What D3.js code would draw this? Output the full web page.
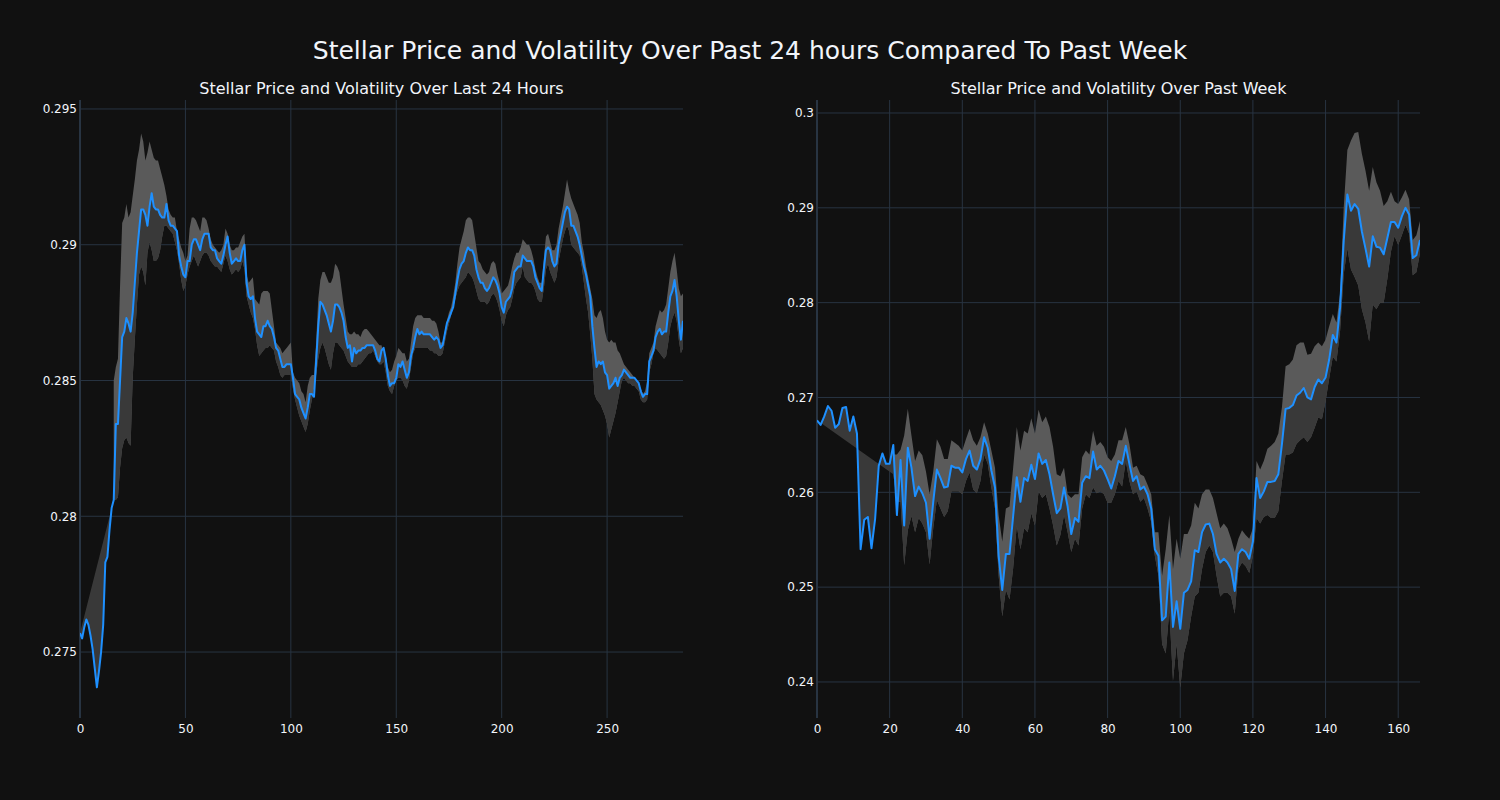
<!DOCTYPE html>
<html><head><meta charset="utf-8">
<script src="https://cdn.jsdelivr.net/npm/d3@7"></script>
<style>body{margin:0;background:#111111;} svg{display:block;}</style>
</head><body><svg id="chart" width="1500" height="800"></svg>
<script>
const mainTitle = "Stellar Price and Volatility Over Past 24 hours Compared To Past Week";
const dayTitle = "Stellar Price and Volatility Over Last 24 Hours";
const weekTitle = "Stellar Price and Volatility Over Past Week";

// 24h price (5-minute steps, index 0..286)
const dayPrice = [
0.2757,0.2755,0.2759,0.2762,0.2760,0.2756,0.2751,0.2744,0.2737,0.2743,
0.2750,0.2760,0.2783,0.2785,0.2795,0.2803,0.2806,0.2834,0.2834,0.2850,
0.2866,0.2868,0.2873,0.2871,0.2868,0.2875,0.2886,0.2897,0.2905,0.2913,
0.2913,0.2911,0.2907,0.2914,0.2919,0.2914,0.2913,0.2913,0.2911,0.2910,
0.2910,0.2915,0.2909,0.2907,0.2907,0.2906,0.2905,0.2896,0.2892,0.2889,
0.2888,0.2894,0.2894,0.2900,0.2902,0.2902,0.2900,0.2898,0.2902,0.2904,
0.2904,0.2904,0.2899,0.2898,0.2898,0.2895,0.2894,0.2893,0.2896,0.2900,
0.2903,0.2897,0.2893,0.2894,0.2895,0.2894,0.2894,0.2898,0.2900,0.2886,
0.2881,0.2880,0.2881,0.2873,0.2868,0.2867,0.2866,0.2870,0.2870,0.2872,
0.2870,0.2869,0.2866,0.2862,0.2861,0.2858,0.2855,0.2855,0.2856,0.2856,
0.2856,0.2851,0.2845,0.2844,0.2843,0.2840,0.2838,0.2836,0.2840,0.2845,
0.2845,0.2844,0.2857,0.2870,0.2879,0.2878,0.2876,0.2874,0.2871,0.2868,
0.2872,0.2878,0.2878,0.2877,0.2875,0.2872,0.2866,0.2862,0.2863,0.2857,
0.2862,0.2860,0.2861,0.2861,0.2862,0.2862,0.2863,0.2863,0.2863,0.2863,
0.2861,0.2858,0.2857,0.2861,0.2862,0.2858,0.2852,0.2848,0.2849,0.2849,
0.2851,0.2856,0.2855,0.2857,0.2854,0.2851,0.2853,0.2859,0.2862,0.2866,
0.2869,0.2867,0.2868,0.2867,0.2867,0.2867,0.2867,0.2866,0.2865,0.2866,
0.2865,0.2862,0.2863,0.2867,0.2871,0.2873,0.2875,0.2877,0.2882,0.2887,
0.2891,0.2893,0.2894,0.2897,0.2899,0.2898,0.2898,0.2896,0.2891,0.2888,
0.2886,0.2886,0.2884,0.2883,0.2884,0.2886,0.2888,0.2887,0.2885,0.2882,
0.2877,0.2875,0.2879,0.2880,0.2881,0.2884,0.2890,0.2891,0.2892,0.2892,
0.2896,0.2895,0.2894,0.2894,0.2894,0.2892,0.2888,0.2886,0.2884,0.2883,
0.2891,0.2898,0.2899,0.2898,0.2894,0.2892,0.2893,0.2900,0.2904,0.2908,
0.2912,0.2914,0.2913,0.2907,0.2907,0.2905,0.2903,0.2900,0.2896,0.2892,
0.2889,0.2885,0.2881,0.2870,0.2862,0.2855,0.2857,0.2856,0.2857,0.2853,
0.2852,0.2847,0.2848,0.2849,0.2851,0.2848,0.2851,0.2852,0.2854,0.2853,
0.2852,0.2851,0.2851,0.2851,0.2850,0.2849,0.2846,0.2844,0.2845,0.2845,
0.2857,0.2859,0.2861,0.2866,0.2868,0.2869,0.2867,0.2868,0.2868,0.2875,
0.2881,0.2883,0.2887,0.2881,0.2872,0.2865,0.2872
];
const dayBandStart = 16;
// upper volatility band, index 16..286
const dayUpper = [
0.2850,0.2855,0.2858,0.2885,
0.2908,0.2910,0.2915,0.2910,0.2912,0.2918,0.2924,0.2931,0.2935,0.2941,
0.2938,0.2931,0.2934,0.2938,0.2935,0.2932,0.2931,0.2931,0.2928,0.2925,
0.2922,0.2918,0.2913,0.2911,0.2910,0.2910,0.2905,0.2902,0.2899,0.2897,
0.2894,0.2896,0.2906,0.2910,0.2910,0.2909,0.2907,0.2905,0.2910,0.2910,
0.2909,0.2906,0.2902,0.2900,0.2899,0.2898,0.2897,0.2898,0.2900,0.2906,
0.2904,0.2900,0.2898,0.2898,0.2899,0.2899,0.2901,0.2903,0.2904,0.2889,
0.2886,0.2887,0.2888,0.2880,0.2879,0.2878,0.2882,0.2883,0.2883,0.2883,
0.2882,0.2876,0.2870,0.2864,0.2863,0.2862,0.2860,0.2861,0.2862,0.2863,
0.2864,0.2853,0.2851,0.2850,0.2849,0.2846,0.2845,0.2842,0.2848,0.2851,
0.2852,0.2852,0.2864,0.2880,0.2887,0.2890,0.2890,0.2888,0.2886,0.2886,
0.2888,0.2893,0.2892,0.2890,0.2884,0.2878,0.2873,0.2868,0.2867,0.2867,
0.2868,0.2867,0.2867,0.2866,0.2868,0.2869,0.2869,0.2868,0.2867,0.2866,
0.2865,0.2864,0.2863,0.2863,0.2860,0.2859,0.2855,0.2853,0.2854,0.2857,
0.2859,0.2862,0.2861,0.2860,0.2860,0.2857,0.2858,0.2864,0.2870,0.2873,
0.2874,0.2874,0.2874,0.2873,0.2873,0.2873,0.2873,0.2872,0.2872,0.2871,
0.2868,0.2864,0.2864,0.2868,0.2872,0.2875,0.2877,0.2881,0.2886,0.2893,
0.2899,0.2902,0.2905,0.2909,0.2910,0.2910,0.2909,0.2904,0.2899,0.2894,
0.2893,0.2891,0.2890,0.2889,0.2890,0.2893,0.2894,0.2893,0.2889,0.2886,
0.2882,0.2883,0.2884,0.2885,0.2888,0.2892,0.2895,0.2897,0.2897,0.2899,
0.2902,0.2901,0.2900,0.2900,0.2898,0.2895,0.2891,0.2888,0.2886,0.2886,
0.2895,0.2903,0.2904,0.2901,0.2898,0.2898,0.2900,0.2906,0.2910,0.2914,
0.2919,0.2924,0.2920,0.2917,0.2915,0.2913,0.2911,0.2908,0.2901,0.2897,
0.2892,0.2888,0.2884,0.2880,0.2874,0.2873,0.2875,0.2876,0.2873,0.2868,
0.2865,0.2864,0.2865,0.2864,0.2864,0.2861,0.2860,0.2858,0.2856,0.2855,
0.2854,0.2853,0.2852,0.2851,0.2850,0.2848,0.2847,0.2845,0.2846,0.2850,
0.2860,0.2862,0.2864,0.2870,0.2873,0.2876,0.2875,0.2876,0.2878,0.2884,
0.2890,0.2894,0.2897,0.2891,0.2884,0.2881,0.2882
];
// lower volatility band, index 16..286
const dayLower = [
0.2806,0.2806,0.2807,0.2818,
0.2825,0.2828,0.2829,0.2827,0.2826,0.2851,0.2865,0.2878,0.2889,0.2892,
0.2890,0.2885,0.2897,0.2901,0.2898,0.2894,0.2894,0.2895,0.2898,0.2903,
0.2907,0.2907,0.2906,0.2905,0.2904,0.2901,0.2898,0.2893,0.2887,0.2883,
0.2885,0.2889,0.2892,0.2894,0.2896,0.2894,0.2892,0.2894,0.2896,0.2897,
0.2897,0.2896,0.2894,0.2893,0.2892,0.2892,0.2891,0.2890,0.2893,0.2896,
0.2894,0.2891,0.2889,0.2890,0.2891,0.2890,0.2891,0.2894,0.2891,0.2881,
0.2878,0.2875,0.2873,0.2869,0.2863,0.2859,0.2860,0.2861,0.2862,0.2862,
0.2863,0.2862,0.2861,0.2857,0.2855,0.2852,0.2851,0.2852,0.2852,0.2852,
0.2852,0.2847,0.2843,0.2840,0.2837,0.2835,0.2833,0.2831,0.2834,0.2839,
0.2843,0.2847,0.2852,0.2858,0.2862,0.2864,0.2862,0.2859,0.2856,0.2854,
0.2860,0.2864,0.2864,0.2863,0.2862,0.2861,0.2859,0.2857,0.2856,0.2855,
0.2855,0.2855,0.2856,0.2856,0.2857,0.2858,0.2859,0.2860,0.2860,0.2861,
0.2859,0.2857,0.2856,0.2856,0.2857,0.2853,0.2848,0.2846,0.2845,0.2848,
0.2850,0.2851,0.2851,0.2850,0.2848,0.2847,0.2850,0.2855,0.2860,0.2862,
0.2862,0.2862,0.2862,0.2862,0.2862,0.2862,0.2861,0.2861,0.2860,0.2860,
0.2859,0.2859,0.2860,0.2864,0.2868,0.2871,0.2874,0.2877,0.2880,0.2883,
0.2885,0.2886,0.2887,0.2888,0.2890,0.2889,0.2888,0.2886,0.2883,0.2880,
0.2879,0.2879,0.2879,0.2878,0.2879,0.2881,0.2882,0.2881,0.2879,0.2876,
0.2872,0.2870,0.2874,0.2876,0.2877,0.2880,0.2884,0.2886,0.2887,0.2888,
0.2892,0.2888,0.2887,0.2886,0.2886,0.2885,0.2883,0.2880,0.2879,0.2879,
0.2884,0.2891,0.2893,0.2890,0.2888,0.2886,0.2888,0.2894,0.2898,0.2902,
0.2905,0.2907,0.2905,0.2900,0.2899,0.2898,0.2897,0.2896,0.2892,0.2886,
0.2880,0.2875,0.2867,0.2858,0.2845,0.2843,0.2842,0.2841,0.2839,0.2837,
0.2834,0.2829,0.2832,0.2835,0.2838,0.2842,0.2846,0.2850,0.2851,0.2850,
0.2849,0.2849,0.2848,0.2848,0.2847,0.2846,0.2843,0.2842,0.2842,0.2843,
0.2853,0.2856,0.2860,0.2862,0.2861,0.2860,0.2859,0.2858,0.2859,0.2864,
0.2870,0.2873,0.2875,0.2872,0.2865,0.2860,0.2862
];

// week price (hourly, index 0..166)
const weekPrice = [
0.2676,0.2671,0.2680,0.2691,0.2686,0.2668,0.2672,0.2689,0.2690,0.2665,
0.2680,0.2662,0.2540,0.2571,0.2574,0.2541,0.2572,0.2628,0.2641,0.2630,
0.2630,0.2650,0.2576,0.2634,0.2565,0.2647,0.2626,0.2596,0.2606,0.2599,
0.2589,0.2551,0.2590,0.2624,0.2615,0.2605,0.2606,0.2628,0.2626,0.2626,
0.2621,0.2635,0.2644,0.2628,0.2624,0.2635,0.2658,0.2647,0.2623,0.2605,
0.2533,0.2497,0.2535,0.2535,0.2575,0.2616,0.2590,0.2615,0.2612,0.2629,
0.2614,0.2641,0.2630,0.2634,0.2619,0.2598,0.2578,0.2583,0.2605,0.2585,
0.2556,0.2573,0.2569,0.2610,0.2617,0.2615,0.2643,0.2624,0.2628,0.2623,
0.2614,0.2604,0.2617,0.2633,0.2630,0.2649,0.2630,0.2612,0.2617,0.2603,
0.2606,0.2598,0.2583,0.2540,0.2533,0.2465,0.2469,0.2526,0.2458,0.2485,
0.2456,0.2494,0.2497,0.2506,0.2539,0.2537,0.2558,0.2566,0.2567,0.2556,
0.2535,0.2526,0.2530,0.2526,0.2519,0.2496,0.2535,0.2540,0.2537,0.2530,
0.2548,0.2615,0.2594,0.2601,0.2611,0.2611,0.2612,0.2619,0.2651,0.2688,
0.2689,0.2692,0.2702,0.2705,0.2710,0.2700,0.2698,0.2711,0.2719,0.2715,
0.2721,0.2740,0.2766,0.2758,0.2795,0.2865,0.2914,0.2897,0.2904,0.2899,
0.2875,0.2857,0.2838,0.2870,0.2859,0.2858,0.2851,0.2868,0.2885,0.2885,
0.2879,0.2891,0.2900,0.2893,0.2847,0.2850,0.2866
];
const weekBandStart = 21;
// upper band, index 21..166
const weekUpper = [
0.2640,0.2640,0.2645,0.2660,0.2688,0.2660,0.2633,0.2644,0.2639,
0.2622,0.2598,0.2622,0.2656,0.2648,0.2635,0.2635,0.2655,0.2652,0.2649,
0.2644,0.2656,0.2667,0.2655,0.2649,0.2658,0.2674,0.2662,0.2644,0.2626,
0.2576,0.2548,0.2583,0.2585,0.2626,0.2669,0.2644,0.2665,0.2662,0.2678,
0.2662,0.2687,0.2674,0.2680,0.2669,0.2648,0.2619,0.2617,0.2626,0.2598,
0.2594,0.2598,0.2598,0.2637,0.2644,0.2640,0.2665,0.2649,0.2653,0.2648,
0.2637,0.2633,0.2640,0.2655,0.2655,0.2669,0.2651,0.2626,0.2628,0.2619,
0.2617,0.2608,0.2598,0.2558,0.2558,0.2512,0.2540,0.2576,0.2519,0.2551,
0.2530,0.2556,0.2556,0.2565,0.2589,0.2583,0.2598,0.2603,0.2603,0.2594,
0.2578,0.2562,0.2567,0.2562,0.2551,0.2537,0.2551,0.2560,0.2555,0.2551,
0.2562,0.2633,0.2624,0.2633,0.2646,0.2649,0.2653,0.2662,0.2690,0.2733,
0.2735,0.2740,0.2755,0.2758,0.2758,0.2745,0.2746,0.2754,0.2758,0.2754,
0.2761,0.2775,0.2788,0.2779,0.2810,0.2900,0.2961,0.2971,0.2979,0.2980,
0.2957,0.2939,0.2918,0.2943,0.2927,0.2918,0.2902,0.2907,0.2917,0.2907,
0.2904,0.2911,0.2919,0.2909,0.2866,0.2871,0.2886
];
// lower band, index 21..166
const weekLower = [
0.2619,0.2590,0.2590,0.2523,0.2560,0.2575,0.2558,0.2573,0.2567,
0.2558,0.2524,0.2562,0.2592,0.2583,0.2574,0.2580,0.2601,0.2601,0.2601,
0.2598,0.2612,0.2621,0.2603,0.2599,0.2612,0.2640,0.2630,0.2605,0.2583,
0.2512,0.2469,0.2497,0.2487,0.2520,0.2565,0.2540,0.2562,0.2558,0.2578,
0.2565,0.2601,0.2594,0.2598,0.2583,0.2565,0.2544,0.2555,0.2576,0.2558,
0.2537,0.2551,0.2544,0.2583,0.2598,0.2594,0.2605,0.2599,0.2601,0.2598,
0.2589,0.2589,0.2598,0.2612,0.2606,0.2633,0.2612,0.2598,0.2601,0.2590,
0.2594,0.2583,0.2569,0.2533,0.2512,0.2440,0.2430,0.2476,0.2401,0.2440,
0.2394,0.2430,0.2444,0.2469,0.2490,0.2494,0.2519,0.2537,0.2544,0.2537,
0.2512,0.2490,0.2494,0.2494,0.2490,0.2472,0.2519,0.2526,0.2522,0.2515,
0.2533,0.2573,0.2567,0.2574,0.2576,0.2573,0.2573,0.2580,0.2612,0.2640,
0.2640,0.2642,0.2651,0.2655,0.2658,0.2653,0.2658,0.2668,0.2679,0.2677,
0.2696,0.2720,0.2743,0.2738,0.2770,0.2830,0.2857,0.2835,0.2827,0.2818,
0.2793,0.2779,0.2759,0.2798,0.2793,0.2800,0.2800,0.2825,0.2854,0.2870,
0.2861,0.2871,0.2882,0.2873,0.2829,0.2832,0.2852
];

const dayXTicks = [0, 50, 100, 150, 200, 250];
const dayYTicks = [0.275, 0.28, 0.285, 0.29, 0.295];
const dayYTickLabels = ["0.275", "0.28", "0.285", "0.29", "0.295"];
const weekXTicks = [0, 20, 40, 60, 80, 100, 120, 140, 160];
const weekYTicks = [0.24, 0.25, 0.26, 0.27, 0.28, 0.29, 0.3];
const weekYTickLabels = ["0.24", "0.25", "0.26", "0.27", "0.28", "0.29", "0.3"];

const svg = d3.select("#chart");
const FONT = "'DejaVu Sans', Verdana, sans-serif";
const TEXT = "#f2f5fa";
const GRID = "#283442";
const TOP = 100, BOTTOM = 718;

svg.append("rect").attr("width", 1500).attr("height", 800).attr("fill", "#111111");

svg.append("text").attr("x", 750).attr("y", 59).attr("text-anchor", "middle")
  .attr("font-family", FONT).attr("font-size", 25).attr("fill", TEXT).text(mainTitle);

function panel(o, id) {
  const n = o.price.length;
  const x = d3.scaleLinear().domain([0, n - 1]).range([o.left, o.right]);
  const y = d3.scaleLinear().domain(o.yDomain).range([BOTTOM, TOP]);
  const g = svg.append("g");

  g.append("text").attr("x", (o.left + o.right) / 2).attr("y", 94).attr("text-anchor", "middle")
    .attr("font-family", FONT).attr("font-size", 16).attr("fill", TEXT).text(o.title);

  g.selectAll("line.hg").data(o.yTicks).join("line").attr("class", "hg")
    .attr("x1", o.left).attr("x2", o.right).attr("y1", d => y(d)).attr("y2", d => y(d))
    .attr("stroke", GRID).attr("stroke-width", 1);
  g.selectAll("line.vg").data(o.xTicks).join("line").attr("class", "vg")
    .attr("x1", d => x(d)).attr("x2", d => x(d)).attr("y1", TOP).attr("y2", BOTTOM)
    .attr("stroke", GRID).attr("stroke-width", d => d === 0 ? 2 : 1);

  svg.append("clipPath").attr("id", id).append("rect")
    .attr("x", o.left).attr("y", TOP).attr("width", o.right - o.left).attr("height", BOTTOM - TOP);
  const pg = g.append("g").attr("clip-path", `url(#${id})`);

  const idx = d3.range(o.bandStart, n);
  const area = d3.area().x(i => x(i))
    .y0(i => y(o.lower[i - o.bandStart])).y1(i => y(o.upper[i - o.bandStart]));
  pg.append("path").attr("d", area(idx)).attr("fill", "#5a5a5a");

  const pts = o.price.map((v, i) => [x(i), y(v)])
    .concat(idx.slice().reverse().map(i => [x(i), y(o.lower[i - o.bandStart])]));
  pg.append("path").attr("d", d3.line()(pts) + "Z").attr("fill", "#393939");

  pg.append("path").attr("d", d3.line().x((v, i) => x(i)).y(v => y(v))(o.price))
    .attr("fill", "none").attr("stroke", "#1e90ff").attr("stroke-width", 2)
    .attr("stroke-linejoin", "round");

  const xa = g.append("g").attr("transform", `translate(0,${BOTTOM})`)
    .call(d3.axisBottom(x).tickValues(o.xTicks).tickSize(0).tickPadding(6));
  const ya = g.append("g").attr("transform", `translate(${o.left},0)`)
    .call(d3.axisLeft(y).tickValues(o.yTicks).tickSize(0).tickPadding(3)
      .tickFormat((d, i) => o.yTickLabels[i]));
  [xa, ya].forEach(a => {
    a.select(".domain").remove();
    a.selectAll("text").attr("fill", TEXT).attr("font-family", FONT).attr("font-size", 12);
  });
}

panel({title: dayTitle, price: dayPrice, upper: dayUpper, lower: dayLower, bandStart: dayBandStart,
  left: 80, right: 683, yDomain: [0.27257, 0.29533], xTicks: dayXTicks, yTicks: dayYTicks,
  yTickLabels: dayYTickLabels}, "clipDay");
panel({title: weekTitle, price: weekPrice, upper: weekUpper, lower: weekLower, bandStart: weekBandStart,
  left: 817, right: 1420, yDomain: [0.2362, 0.30137], xTicks: weekXTicks, yTicks: weekYTicks,
  yTickLabels: weekYTickLabels}, "clipWeek");
</script>
</body></html>
